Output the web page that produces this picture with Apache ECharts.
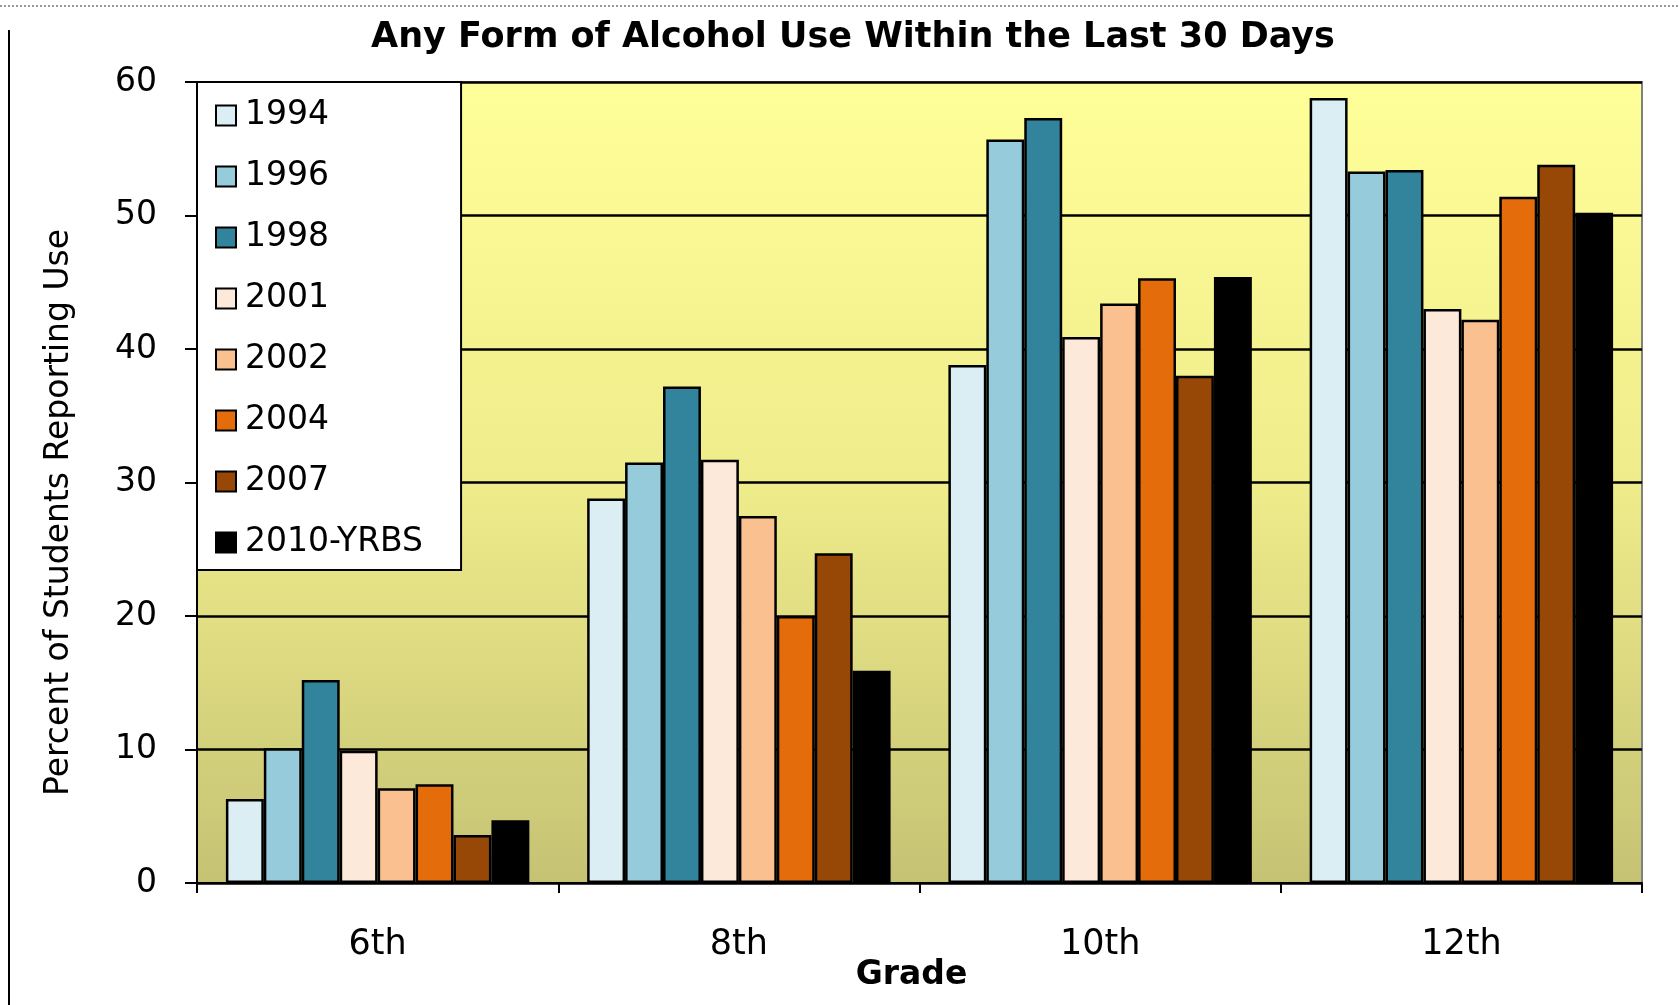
<!DOCTYPE html>
<html>
<head>
<meta charset="utf-8">
<script src="https://cdn.jsdelivr.net/npm/echarts@6/dist/echarts.min.js"></script>
<style>
html,body{margin:0;padding:0;background:#fff;}
#chart{width:1679px;height:1005px;}
</style>
</head>
<body>
<div id="chart"></div>
<script>
const grades = ['6th', '8th', '10th', '12th'];
const years = ['1994', '1996', '1998', '2001', '2002', '2004', '2007', '2010-YRBS'];
const v1994 = [6.3, 28.8, 38.8, 58.8];
const v1996 = [10.1, 31.5, 55.7, 53.3];
const v1998 = [15.2, 37.2, 57.3, 53.4];
const v2001 = [9.9, 31.7, 40.9, 43.0];
const v2002 = [7.1, 27.5, 43.4, 42.2];
const v2004 = [7.4, 20.0, 45.3, 51.4];
const v2007 = [3.6, 24.7, 38.0, 53.8];
const v2010 = [4.7, 15.9, 45.4, 50.2];
const yTicks = [0, 10, 20, 30, 40, 50, 60];

const seriesValues = [v1994, v1996, v1998, v2001, v2002, v2004, v2007, v2010];
const colors = ['#DAEEF3', '#96CBDC', '#31849B', '#FDE9D9', '#FAC090', '#E46C0A', '#974806', '#000000'];
const FONT = 'DejaVu Sans';

const chart = echarts.init(document.getElementById('chart'));
chart.setOption({
  animation: false,
  backgroundColor: '#ffffff',
  title: {
    text: 'Any Form of Alcohol Use Within the Last 30 Days',
    left: 853,
    textAlign: 'center',
    top: 20,
    padding: 0,
    textStyle: {fontFamily: FONT, fontSize: 35, fontWeight: 'bold', color: '#000'}
  },
  graphic: [
    {type: 'line', shape: {x1: 9, y1: 30, x2: 9, y2: 1005}, style: {stroke: '#000', lineWidth: 2}, silent: true},
    {type: 'line', shape: {x1: 0, y1: 6, x2: 1679, y2: 6}, style: {stroke: '#999', lineWidth: 2, lineDash: [2, 2]}, silent: true}
  ],
  legend: {
    orient: 'vertical',
    left: 197,
    top: 82,
    data: years,
    backgroundColor: '#ffffff',
    borderColor: '#000',
    borderWidth: 2,
    padding: [17, 38, 11, 18],
    itemGap: 28,
    itemWidth: 20,
    itemHeight: 20,
    icon: 'rect',
    textStyle: {fontFamily: FONT, fontSize: 33, color: '#000', padding: [0, 0, 0, 4]}
  },
  grid: {
    left: 197,
    right: 37,
    top: 82,
    bottom: 122,
    show: true,
    borderColor: '#808080',
    borderWidth: 2,
    backgroundColor: {
      type: 'linear', x: 0, y: 0, x2: 0, y2: 1,
      colorStops: [{offset: 0, color: '#FFFF99'}, {offset: 0.5, color: '#EFEC8B'}, {offset: 1, color: '#C5C274'}]
    }
  },
  xAxis: {
    type: 'category',
    data: grades,
    name: 'Grade',
    nameLocation: 'middle',
    nameGap: 76,
    nameMoveOverlap: false,
    nameTextStyle: {fontFamily: FONT, fontSize: 33, fontWeight: 'bold', color: '#000', padding: [0, 16, 0, 0]},
    axisLine: {lineStyle: {color: '#000', width: 2}},
    axisTick: {show: true, alignWithLabel: false, length: 10, lineStyle: {color: '#000', width: 2}},
    axisLabel: {fontFamily: FONT, fontSize: 35, color: '#000', margin: 44}
  },
  yAxis: {
    type: 'value',
    min: yTicks[0],
    max: yTicks[yTicks.length - 1],
    interval: 10,
    name: 'Percent of Students Reporting Use',
    nameLocation: 'middle',
    nameGap: 121,
    nameMoveOverlap: false,
    nameTextStyle: {fontFamily: FONT, fontSize: 33, color: '#000', padding: [0, 60, 0, 0]},
    axisLine: {show: true, lineStyle: {color: '#000', width: 2}},
    axisTick: {show: true, length: 12, lineStyle: {color: '#000', width: 2}},
    axisLabel: {fontFamily: FONT, fontSize: 33, color: '#000', margin: 40},
    splitLine: {show: true, lineStyle: {color: '#000', width: 2.5}}
  },
  series: years.map((y, i) => ({
    name: y,
    type: 'bar',
    data: seriesValues[i],
    barGap: '0%',
    barCategoryGap: '16%',
    itemStyle: {color: colors[i], borderColor: '#000', borderWidth: 2.5}
  }))
});
</script>
</body>
</html>
